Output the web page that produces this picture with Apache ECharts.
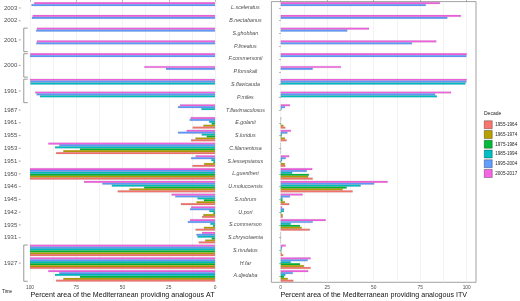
<!DOCTYPE html>
<html>
<head>
<meta charset="utf-8">
<script src="https://cdn.jsdelivr.net/npm/echarts@6/dist/echarts.min.js"></script>
<style>
  html, body { margin: 0; padding: 0; background: #fff; }
  #chart { width: 520px; height: 301px; }
</style>
</head>
<body>
<div id="chart"></div>
<script>
// species, top to bottom, with the year each one was first recorded
const species = ['L.sceleratus', 'B.nectabanus', 'S.ghobban', 'P.lineatus', 'F.commersonii', 'P.forsskali',
  'S.flavicauda', 'P.miles', 'T.flavimaculosus', 'E.golanii', 'S.luridus', 'C.filamentosa', 'S.lessepsianus',
  'L.guentheri', 'U.moluccensis', 'S.rubrum', 'U.pori', 'S.commerson', 'S.chrysotaenia', 'S.rivulatus', 'H.far', 'A.djedaba']
const introYear = [2003, 2002, 2001, 2001, 2000, 2000, 1991, 1991, 1987, 1961, 1955, 1953, 1951,
  1950, 1946, 1945, 1942, 1935, 1931, 1927, 1927, 1927]

// decades, in the order the bars sit inside a row (top first)
const decades = ['2005-2017', '1995-2004', '1985-1994', '1975-1984', '1965-1974', '1955-1964']
const decadeColors = ['#F564E3', '#619CFF', '#00BFC4', '#00BA38', '#B79F00', '#F8766D']

// left panel: % area providing analogous AT
const at2005 = [97.7, 98.6, 96.3, 96.3, 99.8, 38.2, 100, 97.2, 18.9, 13.2, 15.3, 90.1, 10.5, 100, 70.8, 23.5, 12.9, 13.5, 7.0, 100, 100, 90.1]
const at1995 = [99.2, 99.0, 96.7, 96.6, 100, 26.5, 99.8, 96.5, 20.0, 13.7, 20.0, 84.2, 12.9, 100, 60.9, 21.5, 13.5, 14.7, 10.0, 100, 100, 84.2]
const at1985 = [null, null, null, null, null, null, 99.8, 94.6, 7.4, 3.2, 7.2, 86.5, 2.0, 100, 55.8, 9.5, 3.1, 2.5, 9.5, 100, 100, 86.5]
const at1975 = [null, null, null, null, null, null, null, null, null, 1.8, 4.5, 73.0, 0.9, 100, 38.3, 6.0, 0.9, 1.0, 1.8, 100, 100, 73.0]
const at1965 = [null, null, null, null, null, null, null, null, null, 6.3, 10.6, 82.0, 5.9, 100, 46.3, 10.0, 6.3, 6.0, 5.3, 100, 100, 82.0]
const at1955 = [null, null, null, null, null, null, null, null, null, 12.1, 13.0, 85.9, 12.2, 100, 52.6, 18.4, 7.0, 10.5, 8.8, 100, 100, 85.9]

// right panel: % area providing analogous ITV
const itv2005 = [85.6, 96.9, 47.5, 83.7, 100, 32.4, 100, 91.6, 5.0, 0.3, 5.5, 0, 4.6, 17.0, 57.5, 11.8, 0.8, 24.2, 0, 2.7, 16.1, 14.8]
const itv1995 = [78.0, 89.6, 35.8, 70.6, 99.8, 17.2, 99.8, 83.0, 2.3, 0.2, 3.6, 0, 2.7, 14.0, 50.3, 5.0, 1.8, 17.2, 0, 0.8, 14.5, 6.5]
const itv1985 = [null, null, null, null, null, null, 99.3, 84.0, 0.5, 0.1, 0.7, 0, 0.7, 6.2, 43.0, 1.0, 1.8, 5.4, 0, 0.5, 5.4, 2.5]
const itv1975 = [null, null, null, null, null, null, null, null, null, 0.2, 0.4, 0, 0.3, 15.2, 35.5, 1.0, 0.3, 10.4, 0, 0.3, 10.4, 1.8]
const itv1965 = [null, null, null, null, null, null, null, null, null, 1.5, 2.3, 0, 2.3, 14.8, 33.3, 2.3, 1.1, 11.3, 0, 0.5, 12.5, 3.8]
const itv1955 = [null, null, null, null, null, null, null, null, null, 2.5, 3.2, 0, 2.5, 17.2, 38.7, 4.6, 1.1, 15.7, 0, 1.4, 16.1, 6.8]

const xTicks = [0, 25, 50, 75, 100]
const xGridLines = [0, 12.5, 25, 37.5, 50, 62.5, 75, 87.5, 100]

const atValues = [at2005, at1995, at1985, at1975, at1965, at1955]
const itvValues = [itv2005, itv1995, itv1985, itv1975, itv1965, itv1955]

// rows sharing a year get one label and a bracket
const groupLabel = [], groupFrom = [], groupTo = []
introYear.forEach(function (y, i) {
  if (i > 0 && introYear[i - 1] === y) {
    groupTo[groupTo.length - 1] = i
  } else {
    groupLabel.push(String(y)); groupFrom.push(i); groupTo.push(i)
  }
})

const FONT = 'Liberation Sans'
const grey = '#4d4d4d'

function renderYears(params, api) {
  let i = params.dataIndex
  let top = api.coord([105, groupFrom[i]])
  let bot = api.coord([105, groupTo[i]])
  let band = api.size([0, 1])[1]
  let x0 = top[0]
  let yMid = (top[1] + bot[1]) / 2
  let children = [
    {
      type: 'text',
      style: {
        text: groupLabel[i], x: x0 - 3.5, y: yMid,
        align: 'right', verticalAlign: 'middle',
        textAlign: 'right', textVerticalAlign: 'middle',
        fontSize: 6, fontFamily: FONT, fill: grey
      }
    },
    { type: 'line', shape: { x1: x0 - 2, y1: yMid, x2: x0, y2: yMid }, style: { stroke: '#555', lineWidth: 0.5 } }
  ]
  if (groupTo[i] > groupFrom[i]) {
    let bx = x0 + 3
    let y1 = top[1] - band * 0.42
    let y2 = bot[1] + band * 0.42
    children.push({
      type: 'polyline',
      shape: { points: [[bx + 4, y1], [bx, y1], [bx, y2], [bx + 4, y2]] },
      style: { stroke: '#555', lineWidth: 0.6, fill: null }
    })
  }
  return { type: 'group', children: children }
}

function valueAxis(gridIndex, inverse, name) {
  return {
    gridIndex: gridIndex,
    type: 'value',
    min: -5,
    max: 105,
    inverse: inverse,
    name: name,
    nameLocation: 'middle',
    nameGap: 9,
    nameMoveOverlap: false,
    nameTextStyle: { fontSize: 7.1, color: '#111', fontFamily: FONT },
    axisLine: { show: false },
    axisTick: { show: false, customValues: xGridLines },
    splitLine: { show: true, lineStyle: { color: '#ebebeb', width: 0.6 } },
    axisLabel: { customValues: xTicks, fontSize: 4.8, color: grey, fontFamily: FONT, margin: 3 }
  }
}

function tickAxis(gridIndex, inverse) {
  return {
    gridIndex: gridIndex,
    type: 'value',
    min: -5,
    max: 105,
    inverse: inverse,
    axisLine: { show: false },
    axisTick: { show: true, customValues: xTicks, length: 1.5, lineStyle: { color: '#555', width: 0.5 } },
    splitLine: { show: false },
    axisLabel: { show: false }
  }
}

function barSeries(values, axisIndex) {
  return decades.map(function (d, k) {
    return {
      name: d,
      type: 'bar',
      xAxisIndex: axisIndex,
      yAxisIndex: axisIndex,
      data: values[k],
      barGap: '0%',
      barCategoryGap: '10%',
      silent: true,
      itemStyle: { color: decadeColors[k], borderColor: 'rgba(0,0,0,0.45)', borderWidth: 0.2 }
    }
  })
}

let myChart = echarts.init(document.getElementById('chart'), null, { renderer: 'canvas' })
let option = {
  animation: false,
  backgroundColor: '#fff',
  title: [
    { text: 'Decade', left: 484, top: 111, padding: 0, textStyle: { fontSize: 5, fontWeight: 'normal', color: '#222', fontFamily: FONT } },
    { text: 'Time', left: 2, top: 289, padding: 0, textStyle: { fontSize: 4.6, fontWeight: 'normal', color: '#222', fontFamily: FONT } }
  ],
  legend: {
    orient: 'vertical',
    left: 484,
    top: 120.5,
    padding: 0,
    itemWidth: 8,
    itemHeight: 8,
    itemGap: 1.25,
    icon: 'rect',
    data: decades.slice().reverse(),
    itemStyle: { borderColor: 'rgba(0,0,0,0.6)', borderWidth: 0.5 },
    textStyle: { fontSize: 4.6, color: '#222', fontFamily: FONT, padding: [0, 0, 0, -2] }
  },
  grid: [
    { left: 20.75, top: 1.6, width: 203.5, height: 280.7, outerBoundsMode: 'none' },
    { left: 271.4, top: 1.6, width: 204.6, height: 280.7, outerBoundsMode: 'none', show: true, borderColor: '#8a8a8a', borderWidth: 0.8 }
  ],
  xAxis: [
    valueAxis(0, true, 'Percent area of the Mediterranean providing analogous AT'),
    valueAxis(1, false, 'Percent area of the Mediterranean providing analogous ITV'),
    tickAxis(0, true),
    tickAxis(1, false)
  ],
  yAxis: [
    {
      gridIndex: 0, type: 'category', data: species, inverse: true,
      axisLine: { show: false }, axisTick: { show: false }, axisLabel: { show: false }
    },
    {
      gridIndex: 1, type: 'category', data: species, inverse: true,
      axisLine: { show: false },
      axisTick: { show: true, alignWithLabel: true, length: 1.5, lineStyle: { color: '#555', width: 0.5 } },
      axisLabel: { fontSize: 5.3, fontStyle: 'italic', color: grey, fontFamily: FONT, align: 'center', margin: 26 }
    }
  ],
  series: barSeries(atValues, 0).concat(barSeries(itvValues, 1)).concat([{
    type: 'custom',
    xAxisIndex: 0,
    yAxisIndex: 0,
    silent: true,
    clip: false,
    renderItem: renderYears,
    encode: { x: 0, y: 1 },
    data: groupLabel.map(function (_, i) { return [105, groupFrom[i]] })
  }])
}
myChart.setOption(option)
</script>
</body>
</html>
